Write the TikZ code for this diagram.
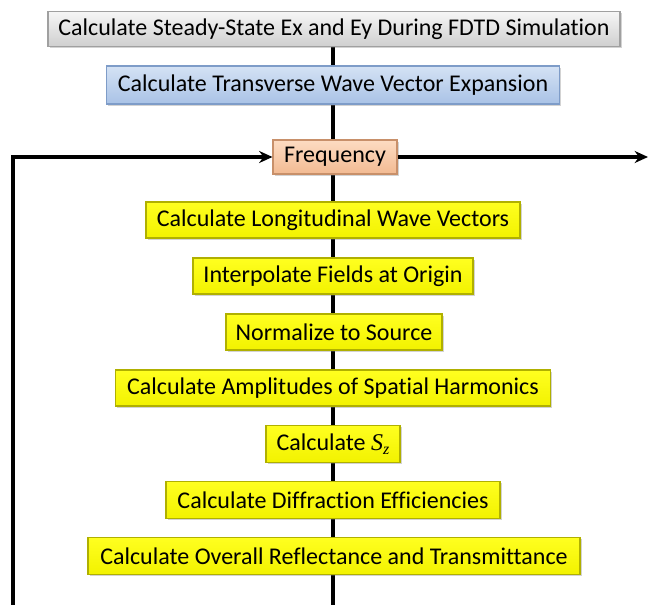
\documentclass[tikz,border=0pt]{standalone}
\usepackage{fontspec}
\setmainfont{Carlito}[Ligatures=CommonOff]
\newfontfamily\libserif{Liberation Serif}
\usetikzlibrary{arrows.meta,shadows,backgrounds}
\definecolor{grayT}{HTML}{F6F6F6}
\definecolor{grayB}{HTML}{CFCFCF}
\definecolor{grayD}{HTML}{A0A0A0}
\definecolor{blueT}{HTML}{D4E2F4}
\definecolor{blueB}{HTML}{A9C2E6}
\definecolor{blueD}{HTML}{7E9CC8}
\definecolor{peachT}{HTML}{FDDCC2}
\definecolor{peachB}{HTML}{F2BA92}
\definecolor{peachD}{HTML}{C8906A}
\definecolor{yelT}{HTML}{FFFF20}
\definecolor{yelB}{HTML}{F2F200}
\definecolor{yelD}{HTML}{B0B000}
\tikzset{
  box/.style={rectangle, inner sep=0pt, font=\fontsize{18}{20}\selectfont, text=black,
    line width=0.8pt, drop shadow={shadow xshift=1.2pt, shadow yshift=-1.2pt, opacity=0.35}},
  graybox/.style={box, top color=grayT, bottom color=grayB, draw=grayD},
  bluebox/.style={box, top color=blueT, bottom color=blueB, draw=blueD},
  peachbox/.style={box, top color=peachT, bottom color=peachB, draw=peachD},
  yelbox/.style={box, top color=yelT, bottom color=yelB, draw=yelD},
  flow/.style={line width=2.8pt, black},
  arr/.style={flow, -{Stealth[length=10pt,width=9pt]}}
}
\begin{document}
\begin{tikzpicture}[x=0.75pt,y=-0.75pt]
\useasboundingbox (0,0) rectangle (649,605);
\node[graybox, minimum width=572*0.75pt, minimum height=35*0.75pt] (b1) at (334,29) {Calculate Steady-State Ex and Ey During FDTD Simulation};
\node[bluebox, minimum width=453*0.75pt, minimum height=38*0.75pt] (b2) at (333,85) {Calculate Transverse Wave Vector Expansion};
\node[peachbox, minimum width=124*0.75pt, minimum height=34*0.75pt] (fr) at (335,157) {Frequency};
\node[yelbox, minimum width=374*0.75pt, minimum height=36*0.75pt] (y1) at (333,220) {Calculate Longitudinal Wave Vectors};
\node[yelbox, minimum width=280*0.75pt, minimum height=36*0.75pt] (y2) at (333,276) {Interpolate Fields at Origin};
\node[yelbox, minimum width=216*0.75pt, minimum height=36*0.75pt] (y3) at (334,332) {Normalize to Source};
\node[yelbox, minimum width=435*0.75pt, minimum height=36*0.75pt] (y4) at (333,388) {Calculate Amplitudes of Spatial Harmonics};
\node[yelbox, minimum width=134*0.75pt, minimum height=37*0.75pt] (y5) at (333,444) {Calculate {\libserif\itshape S\raisebox{-0.35ex}{\fontsize{12}{12}\selectfont z}}};
\node[yelbox, minimum width=334*0.75pt, minimum height=37*0.75pt] (y6) at (333,500) {Calculate Diffraction Efficiencies};
\node[yelbox, minimum width=492*0.75pt, minimum height=37*0.75pt] (y7) at (334,556) {Calculate Overall Reflectance and Transmittance};
\coordinate (bot) at (333,606);
\coordinate (loopbot) at (13,606);
\coordinate (rend) at (648,157);
\begin{pgfonlayer}{background}
\draw[flow] (b1.south -| bot) -- (bot);
\end{pgfonlayer}
\draw[arr] (loopbot) |- (fr.west);
\draw[arr] (fr.east) -- (rend);
\end{tikzpicture}
\end{document}
